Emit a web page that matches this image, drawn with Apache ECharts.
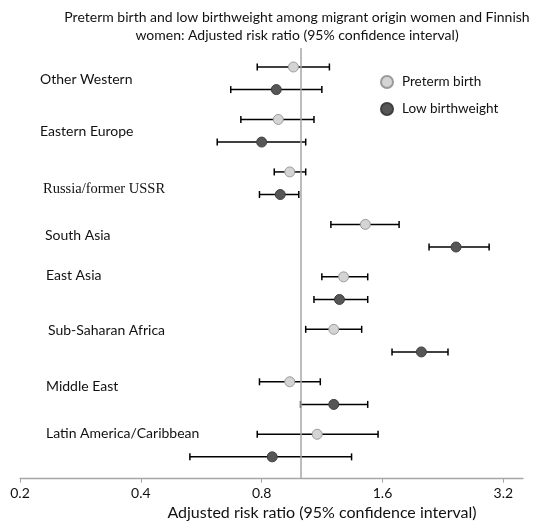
<!DOCTYPE html>
<html>
<head>
<meta charset="utf-8">
<script src="https://cdn.jsdelivr.net/npm/echarts@6/dist/echarts.min.js"></script>
<style>html,body{margin:0;padding:0;background:#fff}#c{width:540px;height:528px}</style>
</head>
<body>
<div id="c"></div>
<script>
// ---- data ----
const categories = ['Other Western','Eastern Europe','Russia/former USSR','South Asia','East Asia','Sub-Saharan Africa','Middle East','Latin America/Caribbean'];
const pretermRR   = [0.96, 0.88, 0.94, 1.45, 1.28, 1.21, 0.94, 1.10];
const pretermLow  = [0.78, 0.71, 0.86, 1.19, 1.13, 1.03, 0.79, 0.78];
const pretermHigh = [1.18, 1.08, 1.03, 1.76, 1.47, 1.42, 1.12, 1.56];
const lbwRR   = [0.87, 0.80, 0.89, 2.44, 1.25, 2.00, 1.21, 0.85];
const lbwLow  = [0.67, 0.62, 0.79, 2.09, 1.08, 1.69, 1.00, 0.53];
const lbwHigh = [1.13, 1.03, 0.99, 2.95, 1.47, 2.33, 1.47, 1.34];
const xTickLabels = [0.2, 0.4, 0.8, 1.6, 3.2];
const referenceRR = 1;
const titleLines = ['Preterm birth and low birthweight among migrant origin women and Finnish','women: Adjusted risk ratio (95% confidence interval)'];
const xAxisTitle = 'Adjusted risk ratio (95% confidence interval)';

// ---- layout ----
const FONT = 'Lato, "Open Sans", sans-serif';
const lbwOffset = 0.431;           // vertical offset of LBW row within a group
const labelLayout = [ // [x, y] pixel placement of category labels
  [40, 79], [40, 131], [43, 189], [45, 235], [46, 275], [48, 330], [46, 386], [46, 433]
];
const t = v => Math.log2(v / xTickLabels[0]);

const pbPts = pretermRR.map((v, i) => [t(v), i]);
const lbwPts = lbwRR.map((v, i) => [t(v), i + lbwOffset]);
const pbBars = pretermLow.map((lo, i) => [t(lo), t(pretermHigh[i]), i]);
const lbwBars = lbwLow.map((lo, i) => [t(lo), t(lbwHigh[i]), i + lbwOffset]);

function errRender(params, api) {
  const lo = api.coord([api.value(0), api.value(2)]);
  const hi = api.coord([api.value(1), api.value(2)]);
  const h = 3.5;
  const st = { stroke: '#000', lineWidth: 1.5 };
  return { type: 'group', children: [
    { type: 'line', shape: { x1: lo[0], y1: lo[1], x2: hi[0], y2: hi[1] }, style: st },
    { type: 'line', shape: { x1: lo[0], y1: lo[1] - h, x2: lo[0], y2: lo[1] + h }, style: st },
    { type: 'line', shape: { x1: hi[0], y1: hi[1] - h, x2: hi[0], y2: hi[1] + h }, style: st }
  ]};
}

const chart = echarts.init(document.getElementById('c'), null, { renderer: 'canvas' });
const tickVals = xTickLabels.map((v, i) => i);

chart.setOption({
  animation: false,
  textStyle: { fontFamily: FONT },
  grid: { left: 20, right: 17, top: 48, bottom: 49.3, containLabel: false },
  xAxis: {
    type: 'value', position: 'bottom', min: 0, max: 4.163,
    axisLine: { show: true, onZero: false, lineStyle: { color: '#a6a6a6', width: 1.3 } },
    axisTick: { show: true, length: 4, customValues: tickVals, lineStyle: { color: '#a6a6a6' } },
    axisLabel: { customValues: tickVals, margin: 8, fontSize: 14, color: '#111', fontFamily: FONT,
      formatter: v => String(xTickLabels[Math.round(v)]) },
    splitLine: { show: false }
  },
  yAxis: { type: 'value', inverse: true, min: -0.362, max: 7.847, show: false },
  legend: {
    orient: 'vertical', left: 380, top: 75, padding: 0, itemWidth: 20, itemHeight: 12, itemGap: 13,
    textStyle: { fontFamily: FONT, fontSize: 13.5, color: '#111' },
    data: ['Preterm birth', 'Low birthweight']
  },
  graphic: [
    ...titleLines.map((s, i) => ({ type: 'text', x: 297, y: 17 + i * 18.5,
      style: { text: s, font: '14px ' + FONT, fill: '#111', align: 'center', verticalAlign: 'middle' } })),
    { type: 'text', x: 322, y: 513,
      style: { text: xAxisTitle, font: '16px ' + FONT, fill: '#111', align: 'center', verticalAlign: 'middle' } },
    ...categories.map((c, i) => ({ type: 'text', x: labelLayout[i][0], y: labelLayout[i][1],
      style: { text: c, font: (i === 2 ? '14.5px "Liberation Serif", serif' : '14px ' + FONT), fill: '#111', align: 'left', verticalAlign: 'middle' } }))
  ],
  series: [
    { name: 'ciPB', type: 'custom', renderItem: errRender, data: pbBars, z: 2,
      markLine: { silent: true, symbol: 'none', label: { show: false },
        lineStyle: { color: '#a6a6a6', width: 1.5, type: 'solid' },
        data: [{ xAxis: t(referenceRR) }] } },
    { name: 'ciLBW', type: 'custom', renderItem: errRender, data: lbwBars, z: 2 },
    { name: 'Preterm birth', type: 'scatter', data: pbPts, symbol: 'circle', symbolSize: 10, z: 5,
      itemStyle: { color: '#d4d4d4', borderColor: '#9a9a9a', borderWidth: 1, opacity: 1 } },
    { name: 'Low birthweight', type: 'scatter', data: lbwPts, symbol: 'circle', symbolSize: 10, z: 5,
      itemStyle: { color: '#565656', borderColor: '#3f3f3f', borderWidth: 1, opacity: 1 } }
  ]
});
</script>
</body>
</html>
